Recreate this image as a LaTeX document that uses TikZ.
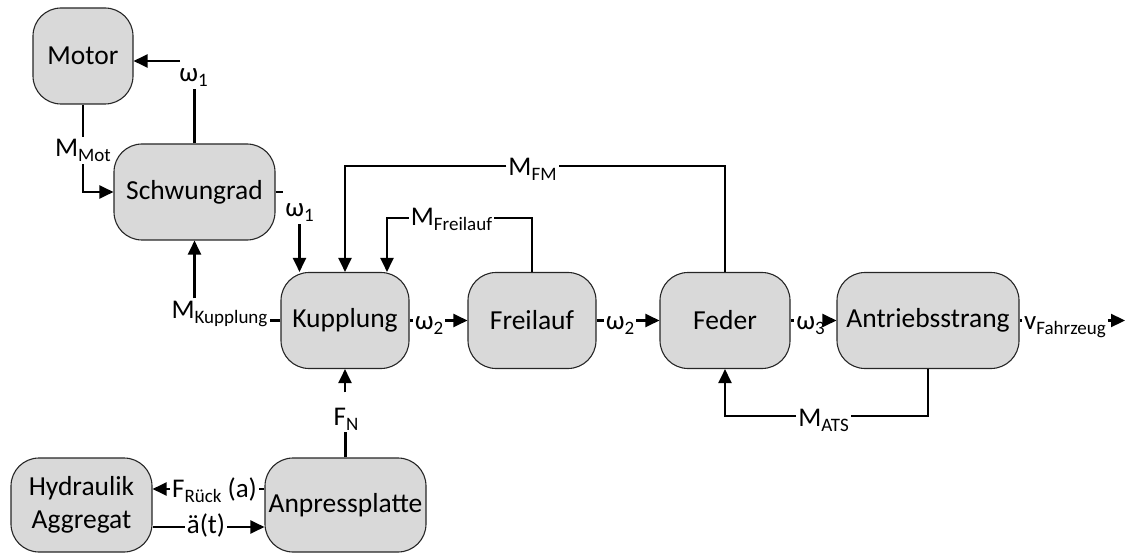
\documentclass[tikz,border=0pt]{standalone}
\usepackage{fontspec}
\setmainfont{Carlito}
\usetikzlibrary{arrows.meta}
\definecolor{boxgray}{HTML}{D9D9D9}
\newcommand{\sbx}[1]{\raisebox{-5pt}{\fontsize{19}{21}\selectfont #1}}
\begin{document}
\begin{tikzpicture}[x=1pt,y=-1pt,
  box/.style={draw=black!85, line width=1.1pt, fill=boxgray, rounded corners=28pt,
    inner sep=0pt, align=center, font=\fontsize{27.5}{33}\selectfont},
  lab/.style={inner sep=2pt, font=\fontsize{27}{30}\selectfont, anchor=base},
  conn/.style={line width=2.2pt, black},
  arr/.style={-{Triangle[length=14pt,width=13pt]}}
]
\useasboundingbox (0,0) rectangle (1126,553);

% boxes
\node[box, minimum width=100pt, minimum height=96pt] (motor) at (83,56) {Motor};
\node[box, minimum width=161pt, minimum height=96pt] (schw) at (194.5,192) {Schwungrad};
\node[box, minimum width=128pt, minimum height=96pt] (kupp) at (345,320.5) {Kupplung};
\node[box, minimum width=128pt, minimum height=96pt] (frei) at (532,320.5) {Freilauf};
\node[box, minimum width=130pt, minimum height=96pt] (feder) at (725,320.5) {Feder};
\node[box, minimum width=182pt, minimum height=96pt] (ats) at (928,320.5) {Antriebsstrang};
\node[box, minimum width=141pt, minimum height=94pt] (hyd) at (81.5,505) {Hydraulik\\Aggregat};
\node[box, minimum width=161pt, minimum height=94pt] (anp) at (345.5,505) {Anpressplatte};

% labels
\node[lab] (w1a) at (193.5,82) {ω\sbx{1}};
\node[lab] (mmot) at (83,157) {M\sbx{Mot}};
\node[lab] (w1b) at (299.5,217) {ω\sbx{1}};
\node[lab] (mk) at (219.5,318) {M\sbx{Kupplung}};
\node[lab] (mfm) at (532.5,176) {M\sbx{FM}};
\node[lab] (mfl) at (451.5,226) {M\sbx{Freilauf}};
\node[lab] (w2a) at (429,329) {ω\sbx{2}};
\node[lab] (w2b) at (620,329) {ω\sbx{2}};
\node[lab] (w3) at (810.5,329) {ω\sbx{3}};
\node[lab, anchor=base west] (vf) at (1022,329) {v\sbx{Fahrzeug}};
\node[lab] (mats) at (823.5,426) {M\sbx{ATS}};
\node[lab] (fn) at (346,425) {F\sbx{N}};
\node[lab] (frz) at (214.5,497) {F\sbx{Rück} (a)};
\node[lab] (at) at (206,533) {ä(t)};

% helper coordinates
\coordinate (c1) at (180,61);
\coordinate (yfm) at (0,166);
\coordinate (yfl) at (0,218);
\coordinate (yats) at (0,416);
\coordinate (yfr) at (0,489);
\coordinate (yat) at (0,527);
\coordinate (vend) at (1125,320.5);

% Schwungrad -> Motor (omega1)
\draw[conn] (schw.north) -- (schw.north |- w1a.south);
\draw[conn,arr] (c1) -- (c1 -| motor.east);
% Motor -> Schwungrad (M_Mot)
\draw[conn] (motor.south) -- (motor.south |- mmot.north);
\draw[conn,arr] (mmot.south) |- (schw.west);
% Schwungrad -> Kupplung (omega1)
\draw[conn] (schw.east) -- (schw.east -| w1b.north west);
\draw[conn,arr] (w1b.south) -- (w1b.south |- kupp.north);
% Kupplung -> Schwungrad (M_Kupplung)
\draw[conn] (kupp.west) -- (kupp.west -| mk.east);
\draw[conn,arr] (mk.north -| schw.south) -- (schw.south);
% Feder -> Kupplung (M_FM)
\draw[conn] (feder.north) -- (feder.north |- yfm) -- (mfm.east |- yfm);
\draw[conn,arr] (mfm.west |- yfm) -| (kupp.north);
% Freilauf -> Kupplung (M_Freilauf)
\draw[conn] (frei.north) -- (frei.north |- yfl) -- (mfl.east |- yfl);
\draw[conn,arr] (mfl.west |- yfl) -| ([xshift=42pt]kupp.north);
% main chain
\draw[conn] (kupp.east) -- (kupp.east -| w2a.west);
\draw[conn,arr] (w2a.east |- frei.west) -- (frei.west);
\draw[conn] (frei.east) -- (frei.east -| w2b.west);
\draw[conn,arr] (w2b.east |- feder.west) -- (feder.west);
\draw[conn] (feder.east) -- (feder.east -| w3.west);
\draw[conn,arr] (w3.east |- ats.west) -- (ats.west);
\draw[conn] (ats.east) -- (ats.east -| vf.west);
\draw[conn,arr] (vf.east |- vend) -- (vend);
% Antriebsstrang -> Feder (M_ATS)
\draw[conn] (ats.south) -- (ats.south |- yats) -- (mats.east |- yats);
\draw[conn,arr] (mats.west |- yats) -| (feder.south);
% Anpressplatte -> Kupplung (F_N)
\draw[conn] (anp.north) -- (anp.north |- fn.south);
\draw[conn,arr] ([yshift=13pt]fn.north -| kupp.south) -- (kupp.south);
% Anpressplatte -> Hydraulik (F_Rueck)
\draw[conn] (anp.west |- yfr) -- (frz.east |- yfr);
\draw[conn,arr] (frz.west |- yfr) -- (hyd.east |- yfr);
% Hydraulik -> Anpressplatte (a(t))
\draw[conn] (hyd.east |- yat) -- (at.west |- yat);
\draw[conn,arr] (at.east |- yat) -- (anp.west |- yat);
\end{tikzpicture}
\end{document}
